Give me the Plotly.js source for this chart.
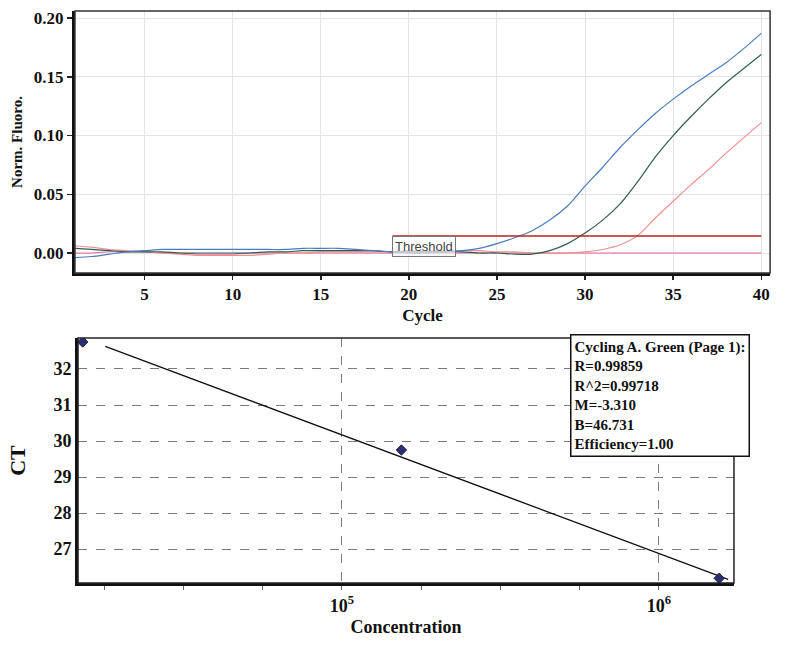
<!DOCTYPE html>
<html>
<head>
<meta charset="utf-8">
<script src="https://cdn.plot.ly/plotly-3.0.1.min.js"></script>
<style>html,body{margin:0;padding:0;background:#fff}#chart{width:785px;height:649px}</style>
</head>
<body>
<div id="chart"></div>
<script>
// ---- Amplification curves (top) ----
const cycles = [1,2,3,4,5,6,7,8,9,10,11,12,13,14,15,16,17,18,19,20,21,22,23,24,25,26,27,28,29,30,31,32,33,34,35,36,37,38,39,40];
const sampleBlue = [-0.004,-0.003,-0.001,0.001,0.002,0.003,0.003,0.003,0.003,0.003,0.003,0.003,0.003,0.004,0.004,0.004,0.003,0.002,0.001,0.000,0.000,0.001,0.002,0.004,0.008,0.013,0.019,0.028,0.040,0.057,0.073,0.090,0.105,0.119,0.131,0.142,0.152,0.162,0.174,0.187];
const sampleGreen = [0.004,0.003,0.002,0.001,0.001,0.001,0.000,0.000,0.000,0.000,0.000,0.001,0.001,0.002,0.002,0.002,0.002,0.002,0.001,0.001,0.001,0.001,0.001,0.000,0.000,-0.001,-0.001,0.002,0.008,0.017,0.028,0.042,0.061,0.082,0.100,0.116,0.131,0.145,0.157,0.169];
const sampleSalmon = [0.006,0.005,0.003,0.002,0.001,0.000,-0.001,-0.002,-0.002,-0.002,-0.002,-0.001,0.000,0.000,0.001,0.001,0.001,0.001,0.001,0.002,0.002,0.002,0.002,0.002,0.001,0.001,0.000,0.000,0.000,0.001,0.003,0.007,0.015,0.030,0.044,0.058,0.071,0.085,0.098,0.111];
const sampleNTC = [0.000,0.000,0.001,0.001,0.001,0.000,0.000,-0.001,-0.001,-0.001,0.000,0.000,0.000,0.000,0.000,0.000,0.000,0.000,0.000,0.000,0.000,0.000,0.000,0.000,0.000,0.000,0.000,0.000,0.000,0.000,0.000,0.000,0.000,0.000,0.000,0.000,0.000,0.000,0.000,0.000];
const thresholdValue = 0.0145;
const thresholdCycles = [19.07, 40];
const cycleTicks = [5,10,15,20,25,30,35,40];
const fluoroTicks = [0.00,0.05,0.10,0.15,0.20];

// ---- Standard curve (bottom) ----
const concentration = [1.52e4, 1.54e5, 1.55e6];
const ctValues = [32.75, 29.75, 26.19];
const fitConc = [1.79e4, 1.654e6];
const fitCt = [32.63, 26.16];
const concTicks = [1e5, 1e6];
const concTickText = ['10<sup>5</sup>', '10<sup>6</sup>'];
const concMinorTicks = [17783, 31623, 56234, 177828, 316228, 562341];
const ctTicks = [27,28,29,30,31,32];
const statsLines = ["Cycling A. Green (Page 1):","R=0.99859","R^2=0.99718","M=-3.310","B=46.731","Efficiency=1.00"];

const serif = '"Liberation Serif", "Times New Roman", serif';
const curveLine = (c, w) => ({color:c, width:w, shape:'spline', smoothing:0.7});

const traces = [
  {x: cycles, y: sampleNTC, type:'scatter', mode:'lines', line:curveLine('#e4619d', 1), xaxis:'x', yaxis:'y'},
  {x: cycles, y: sampleSalmon, type:'scatter', mode:'lines', line:curveLine('#ef8f8f', 1.2), xaxis:'x', yaxis:'y'},
  {x: cycles, y: sampleGreen, type:'scatter', mode:'lines', line:curveLine('#2f5e50', 1.2), xaxis:'x', yaxis:'y'},
  {x: cycles, y: sampleBlue, type:'scatter', mode:'lines', line:curveLine('#4a7bbd', 1.2), xaxis:'x', yaxis:'y'},
  {x: thresholdCycles, y: thresholdCycles.map(()=>thresholdValue), type:'scatter', mode:'lines', line:{color:'#b52222', width:1.5}, xaxis:'x', yaxis:'y'},
  {x: fitConc, y: fitCt, type:'scatter', mode:'lines', line:{color:'#111', width:1.3}, xaxis:'x2', yaxis:'y2'},
  {x: concentration, y: ctValues, type:'scatter', mode:'markers', marker:{symbol:'diamond', size:8, color:'#2d2d72', line:{color:'#1a1a4a', width:1}}, xaxis:'x2', yaxis:'y2'}
];

const layout = {
  width: 785, height: 649,
  margin: {l:0, r:0, t:0, b:0},
  paper_bgcolor:'#fff', plot_bgcolor:'#fff',
  showlegend:false,
  font:{family: serif, color:'#111'},
  xaxis: {
    domain:[0.0955, 0.981], anchor:'y', range:[1.05, 40.5],
    tickmode:'array', tickvals: cycleTicks,
    ticks:'outside', ticklen:4, tickcolor:'#222', tickwidth:1.5,
    showgrid:true, gridcolor:'#e4e4e4', gridwidth:1,
    showline:true, linecolor:'#111', linewidth:3, zeroline:false,
    tickfont:{family:serif, size:17, weight:'bold', color:'#111'},
    title:{text:'Cycle', font:{family:serif, size:17, weight:'bold', color:'#111'}, standoff:6},
    automargin:false
  },
  yaxis: {
    domain:[0.5794, 0.983], anchor:'x', range:[-0.017, 0.206],
    tickmode:'array', tickvals: fluoroTicks, tickformat:'.2f',
    ticks:'outside', ticklen:5, tickcolor:'#222', tickwidth:1.5,
    showgrid:true, gridcolor:'#e4e4e4', gridwidth:1,
    showline:true, linecolor:'#111', linewidth:3, zeroline:false,
    tickfont:{family:serif, size:17, weight:'bold', color:'#111'},
    title:{text:'Norm. Fluoro.', font:{family:serif, size:15, weight:'bold', color:'#111'}, standoff:8},
    automargin:false
  },
  xaxis2: {
    type:'log', domain:[0.0994, 0.935], anchor:'y2', range:[4.167, 6.237],
    tickmode:'array', tickvals: concTicks, ticktext: concTickText,
    ticks:'outside', ticklen:4, tickcolor:'#666', tickwidth:1,
    showgrid:true, gridcolor:'#7a7a7a', gridwidth:1, griddash:'dash',
    minor:{tickmode:'array', tickvals: concMinorTicks, ticks:'outside', ticklen:4, tickcolor:'#666', showgrid:false},
    showline:true, linecolor:'#111', linewidth:3, zeroline:false,
    tickfont:{family:serif, size:18, weight:'bold', color:'#111'},
    title:{text:'Concentration', font:{family:serif, size:18, weight:'bold', color:'#111'}, standoff:6},
    automargin:false
  },
  yaxis2: {
    domain:[0.1017, 0.4792], anchor:'x2', range:[26.06, 32.86],
    tickmode:'array', tickvals: ctTicks,
    ticks:'', ticklen:0,
    showgrid:true, gridcolor:'#7a7a7a', gridwidth:1, griddash:'dash',
    showline:true, linecolor:'#111', linewidth:3, zeroline:false,
    tickfont:{family:serif, size:18, weight:'bold', color:'#111'},
    title:{text:'CT', font:{family:serif, size:22, weight:'bold', color:'#111'}, standoff:22},
    automargin:false
  },
  shapes: [
    {type:'rect', xref:'x domain', yref:'y domain', x0:0, x1:1, y0:0, y1:1, line:{color:'#333', width:1.5}, fillcolor:'rgba(0,0,0,0)'},
    {type:'rect', xref:'x2 domain', yref:'y2 domain', x0:0, x1:1, y0:0, y1:1, line:{color:'#222', width:1.5}, fillcolor:'rgba(0,0,0,0)'}
  ],
  annotations: [
    {xref:'x', yref:'y', x: thresholdCycles[0], y: thresholdValue, xanchor:'left', yanchor:'top',
     text:'Threshold', showarrow:false, font:{family:'"Liberation Sans", Arial, sans-serif', size:13, color:'#444'},
     bordercolor:'#777', borderwidth:1, borderpad:2, bgcolor:'rgba(255,255,255,0.6)'},
    {xref:'paper', yref:'paper', x: 0.726, y: 0.4854, xanchor:'left', yanchor:'top', align:'left',
     text: statsLines.join('<br>'), showarrow:false,
     font:{family:serif, size:15, weight:'bold', color:'#111'},
     bordercolor:'#111', borderwidth:1.5, borderpad:3, bgcolor:'#fff'}
  ]
};

Plotly.newPlot('chart', traces, layout, {displayModeBar:false, staticPlot:true});
</script>
</body>
</html>
